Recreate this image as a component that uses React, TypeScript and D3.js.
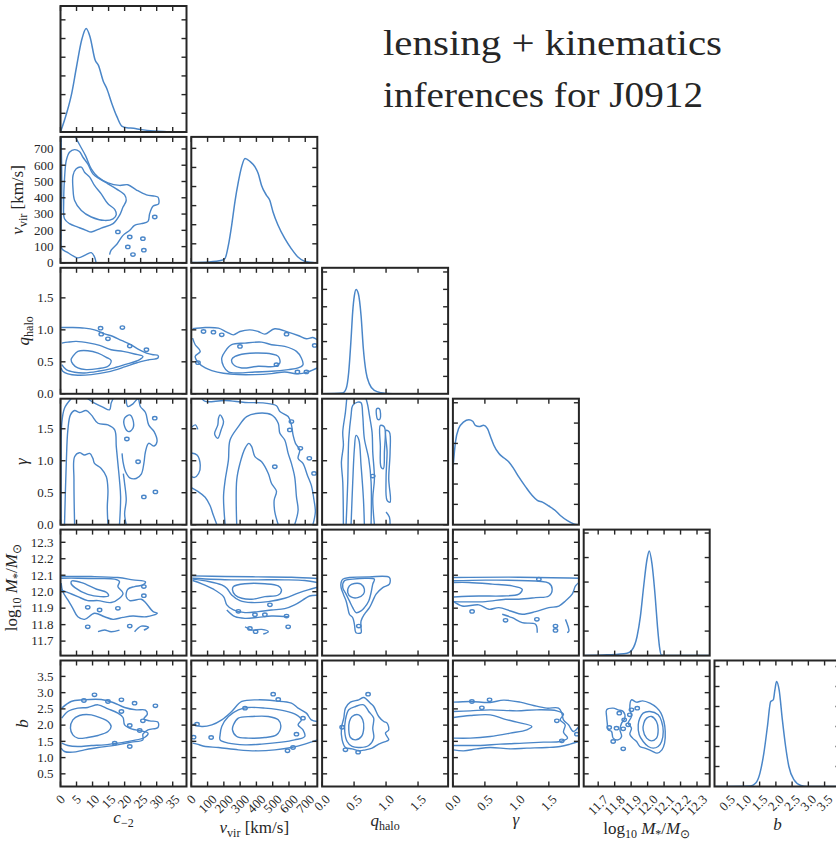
import React from 'react';
import * as d3 from 'd3';

type Pt = [number, number];

// ---------- axes: ranges, ticks, tick labels ----------
const c2Domain = [0, 39.3];
const vvirDomain = [0, 774];
const qDomain = [0, 1.97];
const gammaDomain = [0, 1.97];
const logMDomain = [11.612, 12.377];
const bDomain = [0.11, 3.99];

const c2Ticks = [0, 5, 10, 15, 20, 25, 30, 35];
const vvirTicks = [0, 100, 200, 300, 400, 500, 600, 700];
const qTicks = [0, 0.5, 1.0, 1.5];
const gammaTicks = [0, 0.5, 1.0, 1.5];
const logMTicks = [11.7, 11.8, 11.9, 12.0, 12.1, 12.2, 12.3];
const bTicks = [0.5, 1.0, 1.5, 2.0, 2.5, 3.0, 3.5];

const c2TickLabels = ['0', '5', '10', '15', '20', '25', '30', '35'];
const vvirTickLabels = ['0', '100', '200', '300', '400', '500', '600', '700'];
const qTickLabels = ['0.0', '0.5', '1.0', '1.5'];
const gammaTickLabels = ['0.0', '0.5', '1.0', '1.5'];
const logMTickLabels = ['11.7', '11.8', '11.9', '12.0', '12.1', '12.2', '12.3'];
const bTickLabels = ['0.5', '1.0', '1.5', '2.0', '2.5', '3.0', '3.5'];

const titleLines = ['lensing + kinematics', 'inferences for J0912'];

// ---------- 1D marginals (arbitrary density units) ----------
const c2DensX = [0, 1.9, 3.5, 5.0, 6.6, 8.0, 9.2, 10.8, 11.8, 13.4, 14.4, 16.0, 17.6, 19.1, 20.7, 22.8, 24.8, 29.0, 33.2, 39.2];
const c2DensY = [0, 1.0, 2.07, 3.49, 4.92, 5.54, 5.1, 3.85, 3.58, 2.69, 2.34, 1.53, 0.82, 0.32, 0.23, 0.2, 0.14, 0.05, 0.02, 0];

const vvirDensX = [4, 105, 187, 207, 228, 248, 268, 289, 309, 330, 360, 391, 411, 431, 462, 482, 502, 533, 574, 614, 655, 696, 767];
const vvirDensY = [0.02, 0.05, 0.14, 0.23, 0.93, 1.97, 3.2, 4.24, 5.03, 5.47, 5.32, 5.03, 4.68, 4.07, 3.54, 3.28, 2.67, 1.97, 1.28, 0.75, 0.31, 0.09, 0];

const qDensX = [0.01, 0.32, 0.375, 0.416, 0.453, 0.478, 0.505, 0.531, 0.567, 0.609, 0.645, 0.687, 0.739, 0.817, 0.92, 1.1, 1.96];
const qDensY = [0, 0.04, 0.29, 1.24, 3.16, 4.69, 5.65, 5.99, 5.75, 4.5, 2.59, 1.24, 0.57, 0.19, 0.06, 0, 0];

const gammaDensX = [0.005, 0.04, 0.09, 0.17, 0.25, 0.31, 0.35, 0.41, 0.48, 0.54, 0.59, 0.64, 0.72, 0.8, 0.875, 0.95, 1.03, 1.14, 1.24, 1.32, 1.4, 1.5, 1.6, 1.68, 1.79, 1.89, 1.97];
const gammaDensY = [2.92, 4.07, 4.73, 5.06, 5.17, 5.09, 4.89, 4.83, 4.89, 4.73, 4.32, 3.91, 3.5, 3.28, 3.09, 2.76, 2.35, 1.85, 1.44, 1.2, 1.11, 0.92, 0.7, 0.45, 0.2, 0.04, 0];

const logMDensX = [11.616, 11.754, 11.875, 11.905, 11.936, 11.956, 11.976, 11.996, 12.01, 12.026, 12.046, 12.06, 12.072, 12.083, 12.117, 12.377];
const logMDensY = [0, 0.03, 0.1, 0.23, 0.78, 1.59, 2.82, 3.91, 4.27, 3.77, 2.41, 1.18, 0.37, 0.03, 0, 0];

const bDensX = [0.11, 1.22, 1.38, 1.51, 1.63, 1.74, 1.84, 1.92, 1.97, 2.02, 2.1, 2.2, 2.3, 2.4, 2.56, 2.77, 2.97, 3.87];
const bDensY = [0, 0.03, 0.17, 0.67, 1.67, 3.0, 4.25, 4.33, 4.83, 5.25, 4.83, 3.33, 2.0, 1.0, 0.33, 0.05, 0, 0];

// upper end of each marginal's density axis (ticks at whole units)
const densTops = [6.74, 6.6, 7.24, 6.2, 5.14, 6.3];

// ---------- 2D contours (data units) ----------
// c_-2 vs v_vir
const c2VvirInner: Pt[] = [[4.9, 578], [6.5, 588], [7.5, 557], [9.1, 527], [10.6, 476], [12.7, 424], [14.8, 363], [16.9, 329], [17.4, 296], [16.4, 271], [13.75, 261], [9.6, 282], [6.5, 322], [4.4, 384], [3.9, 455], [3.9, 537]];
const c2VvirMiddle: Pt[] = [[2.8, 680], [4.4, 696], [5.9, 684], [7.0, 649], [8.5, 608], [10.1, 547], [12.2, 516], [14.8, 486], [17.4, 455], [20.0, 418], [20.5, 384], [19.5, 343], [18.4, 292], [16.4, 241], [12.7, 214], [9.6, 190], [8.0, 200], [5.4, 220], [2.8, 241], [1.25, 271], [1.0, 373], [1.25, 516], [1.8, 629]];
const c2VvirOuter: Pt[] = [[4.6, 775], [6.0, 724], [7.8, 659], [9.6, 578], [11.7, 527], [14.8, 492], [18.4, 476], [21.0, 480], [23.6, 449], [26.8, 418], [29.4, 410], [30.4, 404], [30.6, 363], [28.9, 349], [27.8, 302], [27.3, 255], [25.2, 241], [23.1, 231], [21.6, 200], [19.5, 169], [17.7, 118], [15.8, 78], [15.3, 51]];
const c2VvirEdge: Pt[] = [[0.2, 775], [0.4, 476], [0.2, 169], [0.4, 88], [2.3, 63], [5.4, 31], [8.0, 51], [9.6, 63], [10.6, 37], [11.1, 0]];
const c2VvirBlobs: Pt[] = [[17.9, 190], [21.6, 159], [29.4, 282], [25.7, 149], [21.0, 98], [26.0, 78], [22.6, 51]];

// c_-2 vs q_halo
const c2QInner: Pt[] = [[3.85, 0.585], [5.4, 0.663], [8.5, 0.674], [11.7, 0.637], [14.3, 0.57], [15.8, 0.518], [14.8, 0.43], [11.7, 0.394], [8.0, 0.378], [5.4, 0.404], [3.85, 0.466], [3.3, 0.534]];
const c2QMiddle: Pt[] = [[0.4, 0.793], [2.3, 0.808], [4.9, 0.819], [9.1, 0.793], [12.2, 0.756], [15.8, 0.689], [19.5, 0.663], [23.1, 0.622], [25.7, 0.585], [24.7, 0.534], [20.0, 0.456], [15.8, 0.394], [11.7, 0.352], [7.5, 0.326], [4.4, 0.337], [1.8, 0.378], [0.4, 0.456]];
const c2QOuter: Pt[] = [[0.2, 1.036], [3.85, 1.036], [7.5, 1.026], [10.6, 1.0], [13.75, 0.938], [16.4, 0.896], [19.0, 0.834], [21.6, 0.777], [24.2, 0.699], [26.8, 0.637], [28.9, 0.611], [30.4, 0.601], [30.4, 0.56], [27.3, 0.528], [23.6, 0.482], [20.0, 0.42], [14.8, 0.342], [9.6, 0.3], [5.4, 0.29], [2.3, 0.311], [0.7, 0.352], [0.2, 0.404]];
const c2QBlobs: Pt[] = [[12.5, 1.026], [14.8, 0.86], [12.7, 0.933], [19.3, 1.036], [21.6, 0.746], [26.8, 0.689]];

// v_vir vs q_halo
const vvirQInner: Pt[] = [[269, 0.585], [330, 0.627], [411, 0.637], [493, 0.622], [534, 0.585], [544, 0.482], [513, 0.43], [411, 0.43], [310, 0.404], [259, 0.456], [248, 0.534]];
const vvirQMiddle: Pt[] = [[208, 0.663], [248, 0.767], [330, 0.793], [432, 0.808], [493, 0.767], [574, 0.741], [646, 0.663], [676, 0.56], [686, 0.456], [656, 0.404], [595, 0.378], [493, 0.352], [391, 0.342], [289, 0.326], [228, 0.342], [198, 0.43], [187, 0.56]];
const vvirQOuterTop: Pt[] = [[8, 1.016], [86, 1.036], [167, 1.026], [218, 0.964], [259, 0.922], [299, 0.974], [360, 1.0], [411, 0.974], [452, 0.933], [513, 1.016], [595, 0.964], [656, 0.912], [707, 0.86], [747, 0.881], [774, 0.845]];
const vvirQOuterLow: Pt[] = [[774, 0.404], [717, 0.342], [656, 0.311], [574, 0.342], [493, 0.316], [391, 0.3], [289, 0.3], [198, 0.321], [126, 0.363], [86, 0.404], [45, 0.482], [24, 0.585], [55, 0.663], [24, 0.767], [8, 0.87]];
const vvirQBlobs: Pt[] = [[75, 0.974], [136, 0.964], [187, 0.922], [299, 0.741], [585, 0.933], [652, 0.342], [707, 0.342], [758, 0.756], [523, 0.456], [41, 0.487]];

// c_-2 vs gamma
const c2GammaInner: Pt[] = [[4.4, 0], [4.2, 0.696], [4.4, 1.063], [5.9, 1.126], [7.5, 1.089], [9.1, 1.115], [10.1, 1.037], [10.6, 0.958], [12.7, 0.88], [14.3, 0.749], [14.8, 0.539], [14.6, 0.277], [14.8, 0]];
const c2GammaMiddle: Pt[] = [[1.25, 0], [1.8, 0.958], [2.3, 1.482], [3.1, 1.717], [4.4, 1.785], [5.9, 1.754], [8.0, 1.785], [9.6, 1.717], [11.7, 1.586], [14.8, 1.56], [16.9, 1.482], [17.4, 1.22], [17.9, 0.958], [18.4, 0.696], [18.75, 0.435], [18.4, 0]];
const c2GammaOuterL: Pt[] = [[0.2, 0], [0.2, 0.958], [0.4, 1.586], [1.25, 1.822], [3.3, 1.97]];
const c2GammaOuterM: Pt[] = [[8.5, 1.97], [10.6, 1.901], [13.2, 1.838], [15.3, 1.796], [15.8, 1.901], [16.4, 1.97]];
const c2GammaOuterR: Pt[] = [[20.5, 1.97], [21.0, 1.848], [22.6, 1.89], [24.2, 1.97], [24.9, 1.848], [26.5, 1.754], [27.5, 1.56], [29.2, 1.455], [30.1, 1.298], [29.2, 1.23], [27.5, 1.272], [26.5, 1.141], [26.0, 0.958], [25.2, 0.791], [23.6, 0.723], [21.6, 0.733], [20.3, 0.827], [19.5, 0.984], [19.2, 1.115]];
const c2GammaOuterV: Pt[] = [[19.6, 0.8], [20.0, 0.644], [20.5, 0.382], [20.0, 0.173], [20.5, 0]];
const c2GammaLoop: Pt[] = [[20.0, 1.665], [21.6, 1.717], [22.6, 1.639], [22.6, 1.508], [21.25, 1.455], [20.0, 1.534]];
const c2GammaBlobs: Pt[] = [[29.4, 1.665], [24.2, 0.984], [26.0, 0.435], [29.6, 0.513], [20.7, 1.34]];

// v_vir vs gamma
const vvirGammaInner: Pt[] = [[279, 0], [279, 0.696], [299, 0.958], [330, 1.194], [354, 1.272], [371, 1.22], [391, 1.063], [432, 0.984], [473, 0.801], [493, 0.644], [523, 0.524], [509, 0.382], [513, 0.199], [534, 0]];
const vvirGammaMiddle: Pt[] = [[208, 0], [198, 0.435], [208, 0.696], [228, 1.01], [238, 1.325], [289, 1.534], [340, 1.691], [411, 1.743], [493, 1.717], [534, 1.586], [544, 1.429], [574, 1.325], [595, 1.115], [615, 0.958], [635, 0.749], [646, 0.435], [656, 0.225], [635, 0]];
const vvirGammaOuterA: Pt[] = [[0, 1.52], [25, 1.56], [40, 1.49]];
const vvirGammaOuterB: Pt[] = [[0, 1.12], [35, 1.09], [55, 0.93], [45, 0.8], [20, 0.74], [0, 0.75]];
const vvirGammaOuterC: Pt[] = [[0, 0.58], [40, 0.52], [85, 0.43], [115, 0.3], [135, 0.15], [157, 0]];
const vvirGammaOuterR: Pt[] = [[65, 1.97], [86, 1.927], [208, 1.942], [330, 1.911], [452, 1.901], [523, 1.859], [544, 1.77], [595, 1.691], [615, 1.56], [625, 1.403], [640, 1.272], [666, 1.168], [656, 1.037], [686, 0.958], [713, 0.775], [737, 0.618], [754, 0.382], [762, 0.199], [747, 0]];
const vvirGammaLoop: Pt[] = [[177, 1.717], [198, 1.613], [183, 1.482], [163, 1.351], [143, 1.419], [163, 1.56], [167, 1.665]];
const vvirGammaBlobs: Pt[] = [[615, 1.613], [725, 1.037], [754, 0.801], [670, 1.194], [513, 0.906], [605, 1.482]];

// q_halo vs gamma
const qGammaInner: Pt[] = [[0.453, 0], [0.479, 0.667], [0.505, 1.188], [0.531, 1.396], [0.573, 1.333], [0.609, 0.927], [0.646, 0.406], [0.661, 0]];
const qGammaMiddle: Pt[] = [[0.375, 0], [0.401, 0.667], [0.417, 1.344], [0.453, 1.708], [0.479, 1.865], [0.557, 1.917], [0.609, 1.906], [0.635, 1.708], [0.661, 1.344], [0.729, 1.031], [0.766, 0.667], [0.766, 0]];
const qGammaOuterL: Pt[] = [[0.333, 0], [0.323, 0.667], [0.302, 0.979], [0.333, 1.24], [0.323, 1.448], [0.365, 1.76], [0.385, 1.97]];
const qGammaOuterR: Pt[] = [[0.688, 1.97], [0.714, 1.865], [0.74, 1.708], [0.781, 1.448], [0.792, 1.135], [0.818, 0.719], [0.792, 0.406], [0.818, 0]];
const qGammaLoopA: Pt[] = [[0.854, 1.813], [0.896, 1.813], [0.906, 1.656], [0.87, 1.646]];
const qGammaLoopB: Pt[] = [[0.911, 1.552], [0.974, 1.526], [0.974, 1.135], [0.958, 0.875], [0.922, 0.901], [0.911, 1.229]];
const qGammaLoopC: Pt[] = [[1.0, 1.474], [1.052, 1.448], [1.063, 1.135], [1.042, 0.719], [1.063, 0.354], [1.016, 0.38], [1.0, 0.719], [1.016, 1.135]];
const qGammaTail: Pt[] = [[1.0, 0.198], [1.052, 0.12], [1.063, 0]];
const qGammaBlobs: Pt[] = [[0.792, 0.76]];

// c_-2 vs log M
const c2LogMInner: Pt[] = [[3.5, 12.065], [6.6, 12.055], [11.3, 12.015], [14.4, 11.995], [14.95, 11.974], [12.5, 11.97], [8.5, 11.984], [4.5, 12.025], [3.3, 12.05]];
const c2LogMMiddle: Pt[] = [[0.2, 12.082], [5.4, 12.082], [11.7, 12.08], [16.9, 12.076], [18.4, 12.062], [17.9, 12.031], [19.5, 11.991], [18.4, 11.96], [15.8, 11.934], [11.7, 11.946], [8.5, 11.946], [5.4, 11.97], [2.8, 11.991], [0.2, 12.011]];
const c2LogMOuter: Pt[] = [[0.2, 12.092], [9.6, 12.092], [17.9, 12.086], [22.6, 12.072], [26.5, 12.06], [25.7, 12.041], [23.1, 12.031], [21.0, 12.015], [20.5, 11.97], [21.6, 11.946], [25.2, 11.954], [26.5, 11.934], [28.9, 11.879], [30.2, 11.869], [26.8, 11.848], [22.6, 11.852], [19.5, 11.844], [16.4, 11.832], [13.75, 11.848], [10.6, 11.869], [7.5, 11.832], [5.4, 11.848], [3.85, 11.899], [2.3, 11.95], [0.7, 12.001], [0.2, 12.052]];
const c2LogMFragA: Pt[] = [[11.7, 11.757], [13.75, 11.767], [15.8, 11.757], [18.4, 11.767]];
const c2LogMFragB: Pt[] = [[23.1, 11.757], [25.2, 11.791], [27.5, 11.783], [26.0, 11.767]];
const c2LogMBlobs: Pt[] = [[8.5, 11.787], [21.6, 11.791], [26.0, 12.031], [26.0, 11.976], [12.2, 11.889], [17.9, 11.899], [8.5, 11.905]];

// v_vir vs log M
const vvirLogMInner: Pt[] = [[259, 12.031], [330, 12.048], [452, 12.048], [534, 12.035], [554, 12.011], [534, 11.98], [452, 11.97], [371, 11.954], [310, 11.96], [269, 11.98], [253, 12.011]];
const vvirLogMMiddle: Pt[] = [[8, 12.076], [106, 12.062], [187, 12.041], [218, 12.021], [248, 11.98], [299, 11.946], [371, 11.934], [473, 11.94], [574, 11.96], [656, 11.991], [717, 12.011], [774, 12.027]];
const vvirLogMMiddleTop: Pt[] = [[774, 12.056], [697, 12.068], [574, 12.072], [411, 12.072], [248, 12.072], [8, 12.082]];
const vvirLogMOuterTop: Pt[] = [[8, 12.096], [208, 12.092], [411, 12.09], [615, 12.088], [774, 12.08]];
const vvirLogMOuterLow: Pt[] = [[8, 12.068], [65, 12.048], [136, 12.015], [198, 11.97], [218, 11.92], [259, 11.889], [330, 11.873], [411, 11.879], [493, 11.889], [574, 11.897], [635, 11.92], [686, 11.95], [727, 11.974], [774, 11.978]];
const vvirLogMFragA: Pt[] = [[218, 11.889], [269, 11.848], [330, 11.838], [411, 11.844], [493, 11.852], [595, 11.848]];
const vvirLogMFragB: Pt[] = [[330, 11.787], [371, 11.767], [432, 11.771], [473, 11.757], [442, 11.743]];
const vvirLogMBlobs: Pt[] = [[289, 11.881], [391, 11.86], [452, 11.86], [483, 11.92], [585, 11.852], [595, 11.787], [360, 11.777], [395, 11.757]];

// q_halo vs log M
const qLogMInner: Pt[] = [[0.427, 12.035], [0.505, 12.05], [0.609, 12.046], [0.661, 12.015], [0.646, 11.985], [0.557, 11.964], [0.453, 11.968], [0.401, 11.995]];
const qLogMMiddle: Pt[] = [[0.349, 12.066], [0.479, 12.076], [0.688, 12.082], [0.818, 12.076], [0.792, 12.046], [0.766, 11.995], [0.729, 11.944], [0.661, 11.903], [0.609, 11.883], [0.531, 11.873], [0.479, 11.903], [0.427, 11.944], [0.375, 11.985], [0.323, 12.025]];
const qLogMOuter: Pt[] = [[0.323, 12.076], [0.427, 12.086], [0.74, 12.09], [1.052, 12.086], [1.052, 12.046], [0.948, 12.025], [0.844, 11.985], [0.792, 11.944], [0.74, 11.903], [0.661, 11.863], [0.609, 11.822], [0.609, 11.781], [0.609, 11.751], [0.531, 11.751], [0.505, 11.802], [0.479, 11.842], [0.427, 11.863], [0.401, 11.903], [0.375, 11.944], [0.333, 11.985], [0.297, 12.025], [0.297, 12.056]];
const qLogMBlobs: Pt[] = [[0.573, 11.791]];

// gamma vs log M
const gammaLogMInner: Pt[] = [[0.016, 12.056], [0.25, 12.056], [0.615, 12.046], [0.927, 12.035], [1.083, 12.015], [1.031, 11.985], [0.771, 11.974], [0.406, 11.974], [0.016, 11.968]];
const gammaLogMMiddle: Pt[] = [[0, 12.066], [0.51, 12.07], [1.031, 12.068], [1.5, 12.052], [1.552, 12.015], [1.5, 11.974], [1.292, 11.964], [1.031, 11.954], [0.823, 11.954], [0.51, 11.94], [0.198, 11.938], [0, 11.94]];
const gammaLogMOuterTop: Pt[] = [[0, 12.086], [1.031, 12.088], [1.97, 12.082]];
const gammaLogMOuterLow: Pt[] = [[0, 11.944], [0.146, 11.913], [0.406, 11.92], [0.563, 11.893], [0.719, 11.903], [0.901, 11.883], [1.083, 11.863], [1.292, 11.879], [1.5, 11.903], [1.656, 11.913], [1.76, 11.944], [1.865, 11.985], [1.917, 12.035], [1.97, 12.056]];
const gammaLogMFragA: Pt[] = [[0.771, 11.863], [0.927, 11.842], [1.083, 11.812], [1.292, 11.802], [1.318, 11.751]];
const gammaLogMFragB: Pt[] = [[1.76, 11.832], [1.813, 11.761], [1.786, 11.751]];
const gammaLogMBlobs: Pt[] = [[0.823, 11.826], [1.313, 11.832], [1.604, 11.791], [1.604, 11.765], [1.344, 12.076], [0.3, 11.88]];

// c_-2 vs b
const c2BInner: Pt[] = [[3.85, 2.163], [5.9, 2.297], [9.6, 2.317], [12.7, 2.215], [14.8, 2.112], [15.8, 1.958], [14.8, 1.804], [11.7, 1.681], [8.5, 1.619], [5.4, 1.599], [3.85, 1.701], [3.1, 1.907]];
const c2BMiddle: Pt[] = [[0.4, 2.215], [2.3, 2.42], [5.4, 2.523], [8.5, 2.543], [11.7, 2.625], [14.8, 2.502], [17.9, 2.369], [19.5, 2.235], [20.0, 2.009], [22.1, 1.886], [25.2, 1.824], [27.3, 1.753], [26.2, 1.619], [22.1, 1.516], [17.9, 1.445], [13.75, 1.393], [9.6, 1.373], [5.4, 1.342], [2.3, 1.373], [0.4, 1.445]];
const c2BOuter: Pt[] = [[0.4, 2.523], [3.3, 2.728], [7.0, 2.779], [12.7, 2.789], [16.4, 2.697], [20.0, 2.543], [23.6, 2.471], [26.5, 2.461], [27.1, 2.338], [26.0, 2.194], [27.8, 2.132], [30.4, 2.091], [30.4, 1.927], [27.3, 1.855], [25.7, 1.722], [25.7, 1.547], [22.1, 1.475], [19.0, 1.414], [15.8, 1.362], [11.7, 1.311], [7.5, 1.239], [3.85, 1.167], [1.25, 1.188], [0.2, 1.291]];
const c2BBlobs: Pt[] = [[7.3, 2.759], [10.6, 2.933], [14.8, 2.728], [19.0, 2.779], [23.1, 2.677], [19.0, 2.42], [29.6, 2.594], [25.7, 2.132], [21.6, 1.989], [24.7, 1.835], [16.9, 1.445], [21.6, 1.342]];

// v_vir vs b
const vvirBInner: Pt[] = [[259, 2.009], [289, 2.215], [371, 2.266], [473, 2.266], [534, 2.163], [550, 1.958], [523, 1.701], [452, 1.619], [350, 1.599], [279, 1.65], [253, 1.855]];
const vvirBMiddle: Pt[] = [[177, 1.701], [187, 1.958], [228, 2.266], [289, 2.471], [350, 2.543], [452, 2.523], [574, 2.44], [646, 2.317], [676, 2.163], [656, 2.009], [686, 1.855], [697, 1.65], [635, 1.547], [554, 1.475], [432, 1.414], [330, 1.393], [228, 1.445], [177, 1.547]];
const vvirBOuterTop: Pt[] = [[8, 2.03], [65, 1.958], [126, 2.009], [187, 2.163], [248, 2.42], [310, 2.728], [411, 2.779], [513, 2.748], [615, 2.677], [656, 2.523], [707, 2.369], [737, 2.163], [774, 2.112]];
const vvirBOuterLow: Pt[] = [[774, 1.547], [697, 1.414], [615, 1.311], [513, 1.239], [411, 1.208], [289, 1.239], [167, 1.311], [86, 1.342], [35, 1.414], [8, 1.445]];
const vvirBBlobs: Pt[] = [[35, 2.03], [122, 1.619], [14, 1.63], [330, 2.523], [534, 2.789], [503, 2.954], [646, 1.722], [625, 1.311], [591, 1.208], [686, 2.214]];

// q_halo vs b
const qBInner: Pt[] = [[0.469, 2.266], [0.573, 2.317], [0.635, 2.163], [0.651, 1.907], [0.615, 1.65], [0.521, 1.547], [0.443, 1.619], [0.417, 1.855], [0.427, 2.112]];
const qBMiddle: Pt[] = [[0.417, 2.471], [0.521, 2.574], [0.651, 2.625], [0.729, 2.42], [0.807, 2.215], [0.792, 1.907], [0.807, 1.599], [0.729, 1.373], [0.599, 1.311], [0.469, 1.342], [0.391, 1.496], [0.354, 1.804], [0.365, 2.163]];
const qBOuter: Pt[] = [[0.443, 2.707], [0.573, 2.779], [0.651, 2.851], [0.755, 2.677], [0.807, 2.574], [0.885, 2.266], [0.964, 2.112], [1.016, 2.061], [1.042, 1.855], [0.99, 1.753], [1.042, 1.547], [0.964, 1.475], [0.885, 1.414], [0.781, 1.291], [0.677, 1.239], [0.573, 1.208], [0.469, 1.27], [0.365, 1.311], [0.313, 1.547], [0.302, 1.907], [0.339, 2.215], [0.365, 2.523]];
const qBBlobs: Pt[] = [[0.719, 2.954], [0.365, 1.239], [0.563, 1.167], [0.313, 1.934]];

// gamma vs b
const gammaBInner: Pt[] = [[0.01, 2.235], [0.271, 2.297], [0.583, 2.317], [0.792, 2.194], [1.0, 2.091], [1.234, 1.958], [1.156, 1.855], [0.896, 1.753], [0.583, 1.65], [0.271, 1.599], [0.01, 1.599]];
const gammaBMiddle: Pt[] = [[0.01, 2.42], [0.271, 2.44], [0.583, 2.471], [1.0, 2.44], [1.313, 2.471], [1.625, 2.44], [1.729, 2.338], [1.677, 2.163], [1.755, 2.009], [1.729, 1.783], [1.792, 1.599], [1.677, 1.496], [1.417, 1.475], [1.104, 1.445], [0.74, 1.414], [0.427, 1.373], [0.167, 1.373], [0.01, 1.373]];
const gammaBOuterTop: Pt[] = [[0.01, 2.707], [0.271, 2.728], [0.583, 2.697], [0.792, 2.769], [1.052, 2.707], [1.26, 2.605], [1.469, 2.523], [1.651, 2.523], [1.703, 2.369], [1.729, 2.163], [1.807, 2.009], [1.885, 1.804], [1.97, 1.958]];
const gammaBOuterLow: Pt[] = [[1.97, 1.496], [1.833, 1.414], [1.677, 1.342], [1.469, 1.311], [1.156, 1.291], [0.896, 1.27], [0.583, 1.311], [0.375, 1.27], [0.167, 1.208], [0.01, 1.239]];
const gammaBBlobs: Pt[] = [[0.297, 2.728], [0.573, 2.779], [0.453, 2.533], [1.625, 2.132], [1.703, 1.517], [1.938, 1.722]];

// log M vs b
const logMBInner: Pt[] = [[11.994, 2.215], [12.024, 2.266], [12.054, 2.112], [12.064, 1.855], [12.054, 1.599], [12.024, 1.516], [11.994, 1.599], [11.973, 1.855], [11.977, 2.061]];
const logMBMiddle: Pt[] = [[11.973, 2.369], [12.014, 2.42], [12.064, 2.317], [12.085, 2.112], [12.095, 1.804], [12.085, 1.496], [12.064, 1.342], [12.034, 1.291], [12.004, 1.342], [11.973, 1.496], [11.949, 1.701], [11.943, 2.009], [11.953, 2.215]];
const logMBOuter: Pt[] = [[11.902, 2.779], [11.933, 2.707], [11.969, 2.748], [12.014, 2.677], [12.054, 2.543], [12.081, 2.369], [12.099, 2.112], [12.107, 1.804], [12.103, 1.445], [12.087, 1.239], [12.058, 1.137], [12.024, 1.208], [11.983, 1.291], [11.953, 1.342], [11.933, 1.496], [11.909, 1.599], [11.892, 1.722], [11.902, 1.907], [11.882, 2.061], [11.902, 2.266], [11.892, 2.523]];
const logMBCluster: Pt[] = [[11.751, 2.471], [11.791, 2.523], [11.821, 2.471], [11.852, 2.42], [11.862, 2.215], [11.842, 2.061], [11.832, 1.855], [11.842, 1.65], [11.821, 1.547], [11.791, 1.599], [11.781, 1.804], [11.761, 1.855], [11.755, 2.061], [11.751, 2.266]];
const logMBBlobs: Pt[] = [[11.828, 2.369], [11.858, 2.163], [11.892, 2.317], [11.811, 1.907], [11.852, 1.886], [11.882, 2.009], [11.791, 1.496], [11.852, 1.27], [11.902, 2.471], [11.937, 2.523], [11.767, 1.927]];

const pairs = [
  { row: 1, col: 0, closed: [c2VvirInner, c2VvirMiddle], open: [c2VvirOuter, c2VvirEdge], blobs: c2VvirBlobs },
  { row: 2, col: 0, closed: [c2QInner], open: [c2QMiddle, c2QOuter], blobs: c2QBlobs },
  { row: 2, col: 1, closed: [vvirQInner, vvirQMiddle], open: [vvirQOuterTop, vvirQOuterLow], blobs: vvirQBlobs },
  { row: 3, col: 0, closed: [c2GammaLoop], open: [c2GammaInner, c2GammaMiddle, c2GammaOuterL, c2GammaOuterM, c2GammaOuterR, c2GammaOuterV], blobs: c2GammaBlobs },
  { row: 3, col: 1, closed: [vvirGammaLoop], open: [vvirGammaInner, vvirGammaMiddle, vvirGammaOuterA, vvirGammaOuterB, vvirGammaOuterC, vvirGammaOuterR], blobs: vvirGammaBlobs },
  { row: 3, col: 2, closed: [qGammaLoopA, qGammaLoopB, qGammaLoopC], open: [qGammaInner, qGammaMiddle, qGammaOuterL, qGammaOuterR, qGammaTail], blobs: qGammaBlobs },
  { row: 4, col: 0, closed: [c2LogMInner], open: [c2LogMMiddle, c2LogMOuter, c2LogMFragA, c2LogMFragB], blobs: c2LogMBlobs },
  { row: 4, col: 1, closed: [vvirLogMInner], open: [vvirLogMMiddle, vvirLogMMiddleTop, vvirLogMOuterTop, vvirLogMOuterLow, vvirLogMFragA, vvirLogMFragB], blobs: vvirLogMBlobs },
  { row: 4, col: 2, closed: [qLogMInner, qLogMMiddle, qLogMOuter], open: [], blobs: qLogMBlobs },
  { row: 4, col: 3, closed: [], open: [gammaLogMInner, gammaLogMMiddle, gammaLogMOuterTop, gammaLogMOuterLow, gammaLogMFragA, gammaLogMFragB], blobs: gammaLogMBlobs },
  { row: 5, col: 0, closed: [c2BInner], open: [c2BMiddle, c2BOuter], blobs: c2BBlobs },
  { row: 5, col: 1, closed: [vvirBInner, vvirBMiddle], open: [vvirBOuterTop, vvirBOuterLow], blobs: vvirBBlobs },
  { row: 5, col: 2, closed: [qBInner, qBMiddle, qBOuter], open: [], blobs: qBBlobs },
  { row: 5, col: 3, closed: [], open: [gammaBInner, gammaBMiddle, gammaBOuterTop, gammaBOuterLow], blobs: gammaBBlobs },
  { row: 5, col: 4, closed: [logMBInner, logMBMiddle, logMBOuter, logMBCluster], open: [], blobs: logMBBlobs },
];

// ---------- layout ----------
const P = 126;
const colLeft = (c: number) => 60.5 + 130.8 * c;
const rowTop = (r: number) => 6 + 130.9 * r;
const FONT = "'Liberation Serif', 'Times New Roman', serif";
const INK = '#262626';
const BLUE = '#4a86c8';
const TICK = 5;

const charW = (s: string) => s.split('').reduce((a, ch) => a + (ch === '.' ? 3.25 : 6.5), 0);

const sub = (t: string) => (
  <tspan dy={4} style={{ fontSize: 12 }}>{t}</tspan>
);
const back = (t: string) => <tspan dy={-4}>{t}</tspan>;
const ital = { fontStyle: 'italic' as const };

export default function App() {
  const axes = [
    { domain: c2Domain, ticks: c2Ticks, labels: c2TickLabels },
    { domain: vvirDomain, ticks: vvirTicks, labels: vvirTickLabels },
    { domain: qDomain, ticks: qTicks, labels: qTickLabels },
    { domain: gammaDomain, ticks: gammaTicks, labels: gammaTickLabels },
    { domain: logMDomain, ticks: logMTicks, labels: logMTickLabels },
    { domain: bDomain, ticks: bTicks, labels: bTickLabels },
  ];
  const dens = [
    { x: c2DensX, y: c2DensY },
    { x: vvirDensX, y: vvirDensY },
    { x: qDensX, y: qDensY },
    { x: gammaDensX, y: gammaDensY },
    { x: logMDensX, y: logMDensY },
    { x: bDensX, y: bDensY },
  ];

  const sx = axes.map((a, i) => d3.scaleLinear().domain(a.domain).range([colLeft(i), colLeft(i) + P]));
  const sy = axes.map((a, i) => d3.scaleLinear().domain(a.domain).range([rowTop(i) + P, rowTop(i)]));

  const ticksFor = (left: number, top: number, xs: number[], ys: number[]) => (
    <g stroke={INK} strokeWidth={1.4}>
      {xs.map((x, i) => (
        <g key={'x' + i}>
          <line x1={x} x2={x} y1={top + P} y2={top + P - TICK} />
          <line x1={x} x2={x} y1={top} y2={top + TICK} />
        </g>
      ))}
      {ys.map((y, i) => (
        <g key={'y' + i}>
          <line x1={left} x2={left + TICK} y1={y} y2={y} />
          <line x1={left + P} x2={left + P - TICK} y1={y} y2={y} />
        </g>
      ))}
    </g>
  );

  const panels: JSX.Element[] = [];

  // diagonal marginals
  dens.forEach((d, i) => {
    const left = colLeft(i);
    const top = rowTop(i);
    const yS = d3.scaleLinear().domain([0, densTops[i]]).range([top + P, top]);
    const pts: Pt[] = d.x.map((v, k) => [v, d.y[k]]);
    const line = d3
      .line<Pt>()
      .x((p) => sx[i](p[0]))
      .y((p) => yS(p[1]))
      .curve(d3.curveMonotoneX);
    const yT = d3.range(1, Math.floor(densTops[i]) + 1).map((t) => yS(t));
    panels.push(
      <g key={'d' + i}>
        <g clipPath={`url(#clip-${i}-${i})`}>
          <path d={line(pts) || ''} fill="none" stroke={BLUE} strokeWidth={1.5} />
        </g>
        {ticksFor(left, top, axes[i].ticks.map((t) => sx[i](t)), yT)}
        <rect x={left} y={top} width={P} height={P} fill="none" stroke={INK} strokeWidth={2} />
      </g>
    );
  });

  // 2D contour panels
  pairs.forEach((p) => {
    const left = colLeft(p.col);
    const top = rowTop(p.row);
    const fx = sx[p.col];
    const fy = sy[p.row];
    const open = d3.line<Pt>().x((q) => fx(q[0])).y((q) => fy(q[1])).curve(d3.curveCatmullRom.alpha(0.5));
    const closed = d3.line<Pt>().x((q) => fx(q[0])).y((q) => fy(q[1])).curve(d3.curveCatmullRomClosed.alpha(0.5));
    panels.push(
      <g key={`p${p.row}-${p.col}`}>
        <g clipPath={`url(#clip-${p.row}-${p.col})`} fill="none" stroke={BLUE} strokeWidth={1.4} strokeLinejoin="round">
          {p.closed.map((c, k) => (
            <path key={'c' + k} d={closed(c) || ''} />
          ))}
          {p.open.map((c, k) => (
            <path key={'o' + k} d={open(c) || ''} />
          ))}
          {p.blobs.map((b, k) => (
            <ellipse key={'b' + k} cx={fx(b[0])} cy={fy(b[1])} rx={2.2} ry={1.7} />
          ))}
        </g>
        {ticksFor(left, top, axes[p.col].ticks.map((t) => fx(t)), axes[p.row].ticks.map((t) => fy(t)))}
        <rect x={left} y={top} width={P} height={P} fill="none" stroke={INK} strokeWidth={2} />
      </g>
    );
  });

  const clips: JSX.Element[] = [];
  for (let r = 0; r < 6; r++) {
    for (let c = 0; c <= r; c++) {
      clips.push(
        <clipPath key={`k${r}-${c}`} id={`clip-${r}-${c}`}>
          <rect x={colLeft(c)} y={rowTop(r)} width={P} height={P} />
        </clipPath>
      );
    }
  }

  // tick labels
  const yTickText: JSX.Element[] = [];
  for (let r = 1; r < 6; r++) {
    axes[r].ticks.forEach((t, k) => {
      yTickText.push(
        <text key={`yl${r}-${k}`} x={53.5} y={sy[r](t)} dy="0.33em" textAnchor="end">
          {axes[r].labels[k]}
        </text>
      );
    });
  }
  const xTickText: JSX.Element[] = [];
  const bottom = rowTop(5) + P;
  for (let c = 0; c < 6; c++) {
    axes[c].ticks.forEach((t, k) => {
      const s = axes[c].labels[k];
      const cx = sx[c](t);
      const cy = bottom + 6 + (charW(s) + 13) * 0.354;
      xTickText.push(
        <text key={`xl${c}-${k}`} transform={`translate(${cx},${cy}) rotate(-45)`} dy="0.33em" textAnchor="middle">
          {s}
        </text>
      );
    });
  }

  const colMid = (c: number) => colLeft(c) + P / 2;
  const rowMid = (r: number) => rowTop(r) + P / 2;

  const logMLabel = (
    <>
      log
      {sub('10')}
      <tspan dy={-4} style={ital}> M</tspan>
      {sub('*')}
      {back('/')}
      <tspan style={ital}>M</tspan>
      {sub('⊙')}
    </>
  );
  const vvirLabel = (
    <>
      <tspan style={ital}>v</tspan>
      {sub('vir')}
      {back(' [km/s]')}
    </>
  );

  return (
    <svg width={836} height={841} style={{ position: 'absolute', left: 0, top: 0, background: '#fff', fontFamily: FONT }}>
      <defs>{clips}</defs>
      <rect width={836} height={841} fill="#fff" />
      {panels}
      <g style={{ fontFamily: FONT, fontSize: 13 }} fill={INK}>
        {yTickText}
        {xTickText}
      </g>

      {/* x axis labels */}
      <g style={{ fontFamily: FONT, fontSize: 17 }} fill={INK} textAnchor="middle">
        <text x={colMid(0)} y={823}>
          <tspan style={ital}>c</tspan>
          {sub('−2')}
        </text>
        <text x={colMid(1)} y={833}>{vvirLabel}</text>
        <text x={colMid(2)} y={826}>
          <tspan style={ital}>q</tspan>
          {sub('halo')}
        </text>
        <text x={colMid(3)} y={825} style={ital}>γ</text>
        <text x={colMid(4)} y={834}>{logMLabel}</text>
        <text x={colMid(5)} y={830} style={ital}>b</text>
      </g>

      {/* y axis labels */}
      <g style={{ fontFamily: FONT, fontSize: 17 }} fill={INK} textAnchor="middle">
        <text transform={`translate(23,${rowMid(1)}) rotate(-90)`}>{vvirLabel}</text>
        <text transform={`translate(29,${rowMid(2)}) rotate(-90)`}>
          <tspan style={ital}>q</tspan>
          {sub('halo')}
        </text>
        <text transform={`translate(27,${rowMid(3)}) rotate(-90)`} style={ital}>γ</text>
        <text transform={`translate(17,${rowMid(4) - 5}) rotate(-90)`}>{logMLabel}</text>
        <text transform={`translate(28,${rowMid(5)}) rotate(-90)`} style={ital}>b</text>
      </g>

      {/* title */}
      <g style={{ fontFamily: FONT, fontSize: 35 }} fill={INK}>
        <text x={383} y={55} textLength={339} lengthAdjust="spacingAndGlyphs">{titleLines[0]}</text>
        <text x={383} y={107} textLength={320} lengthAdjust="spacingAndGlyphs">{titleLines[1]}</text>
      </g>
    </svg>
  );
}
